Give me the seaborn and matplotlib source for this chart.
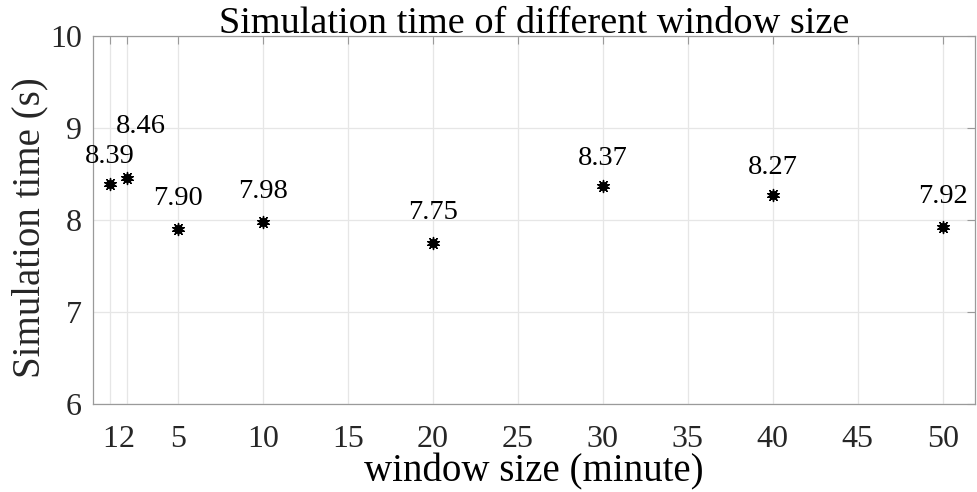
import pandas as pd
import matplotlib
matplotlib.use("Agg")
import matplotlib.pyplot as plt
import seaborn as sns

# window sizes (minutes) and measured simulation times (s)
window_size = [1, 2, 5, 10, 20, 30, 40, 50]
sim_time = [8.39, 8.46, 7.90, 7.98, 7.75, 8.37, 8.27, 7.92]
x_ticks = [1, 2, 5, 10, 15, 20, 25, 30, 35, 40, 45, 50]
y_ticks = [6, 7, 8, 9, 10]

df = pd.DataFrame({"window": window_size, "time": sim_time})

sns.set_style("white")
plt.rcParams["font.family"] = ["Liberation Serif", "DejaVu Serif"]

fig = plt.figure(figsize=(9.78, 4.92), dpi=100)
ax = fig.add_axes([0.0951, 0.1789, 0.9019, 0.7479])

# filled dot with asterisk on top, like matlab '*' markers
sns.scatterplot(data=df, x="window", y="time", ax=ax, color="black",
                marker="o", s=38, edgecolor="black", linewidth=0.5, zorder=3)
sns.scatterplot(data=df, x="window", y="time", ax=ax, color="black",
                marker=(10, 2, 0), s=75, edgecolor="black", linewidth=1.0, zorder=3)

# label offsets (points); the 2-minute label sits higher so it clears the 1-minute one
offsets = [(0, 11), (10, 28), (0, 13), (0, 13), (0, 13), (0, 11), (0, 11), (0, 13)]
for xv, yv, off in zip(window_size, sim_time, offsets):
    ax.annotate(f"{yv:.2f}", (xv, yv), xytext=off, textcoords="offset points",
                ha="center", va="bottom", fontsize=20.5, color="black")

ax.set_xlim(0, 51.9)
ax.set_ylim(6, 10)
ax.set_xticks(x_ticks)
ax.set_yticks(y_ticks)
ax.grid(True, color="#e6e6e6", linewidth=0.9)
ax.set_axisbelow(True)
for sp in ax.spines.values():
    sp.set_visible(True)
    sp.set_color("#9a9a9a")
    sp.set_linewidth(0.9)
ax.tick_params(direction="in", length=6, width=0.8, color="#9a9a9a",
               top=True, right=True, labelsize=23, labelcolor="#262626")
ax.tick_params(axis="x", pad=15)
ax.tick_params(axis="y", pad=8)

ax.set_title("Simulation time of different window size", fontsize=27.5, pad=2, color="black")
ax.set_xlabel("window size (minute)", fontsize=28, labelpad=0, color="black")
ax.set_ylabel("Simulation time (s)", fontsize=28, color="#262626")
ax.yaxis.set_label_coords(-0.050, 0.48)

fig.savefig("out.png", dpi=100)
